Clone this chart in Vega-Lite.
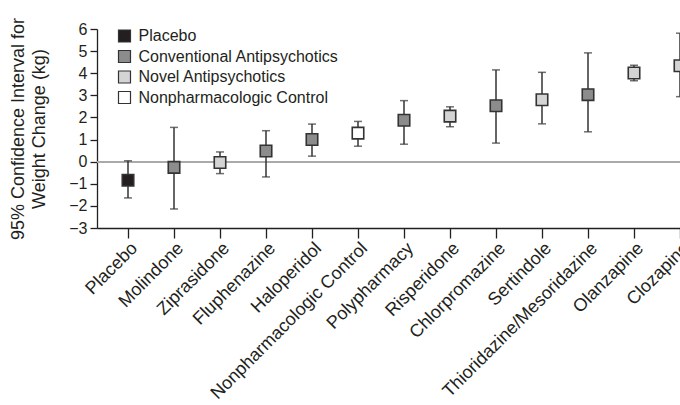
{
  "$schema": "https://vega.github.io/schema/vega-lite/v6.json",
  "autosize": {"type": "none"},
  "width": 583,
  "height": 199,
  "padding": {"left": 97, "top": 29, "right": 0, "bottom": 177},
  "background": "white",
  "config": {
    "font": "Liberation Sans",
    "view": {"stroke": null},
    "axis": {"grid": false, "domainColor": "#231f20", "tickColor": "#231f20", "labelColor": "#231f20", "titleColor": "#231f20", "domainWidth": 1.3, "tickWidth": 1.3, "labelLimit": 0, "labelOverlap": false, "labelFlush": false},
    "axisY": {"tickCount": 10}
  },
  "data": {
    "values": [
      {"drug": "Placebo", "group": "Placebo", "mean": -0.84, "lo": -1.64, "hi": 0.04},
      {"drug": "Molindone", "group": "Conventional Antipsychotics", "mean": -0.26, "lo": -2.14, "hi": 1.55},
      {"drug": "Ziprasidone", "group": "Novel Antipsychotics", "mean": -0.04, "lo": -0.54, "hi": 0.44},
      {"drug": "Fluphenazine", "group": "Conventional Antipsychotics", "mean": 0.48, "lo": -0.69, "hi": 1.40},
      {"drug": "Haloperidol", "group": "Conventional Antipsychotics", "mean": 1.0, "lo": 0.25, "hi": 1.70},
      {"drug": "Nonpharmacologic Control", "group": "Nonpharmacologic Control", "mean": 1.29, "lo": 0.70, "hi": 1.82},
      {"drug": "Polypharmacy", "group": "Conventional Antipsychotics", "mean": 1.87, "lo": 0.79, "hi": 2.76},
      {"drug": "Risperidone", "group": "Novel Antipsychotics", "mean": 2.06, "lo": 1.58, "hi": 2.48},
      {"drug": "Chlorpromazine", "group": "Conventional Antipsychotics", "mean": 2.53, "lo": 0.84, "hi": 4.15},
      {"drug": "Sertindole", "group": "Novel Antipsychotics", "mean": 2.80, "lo": 1.71, "hi": 4.04},
      {"drug": "Thioridazine/Mesoridazine", "group": "Conventional Antipsychotics", "mean": 3.03, "lo": 1.35, "hi": 4.92},
      {"drug": "Olanzapine", "group": "Novel Antipsychotics", "mean": 4.01, "lo": 3.66, "hi": 4.36},
      {"drug": "Clozapine", "group": "Novel Antipsychotics", "mean": 4.34, "lo": 2.94, "hi": 5.81}
    ]
  },
  "encoding": {
    "x": {
      "field": "drug", "type": "nominal", "sort": null,
      "scale": {"type": "point", "padding": 0.337, "align": 1},
      "axis": {"title": null, "labelAngle": -45, "labelFontSize": 18, "tickSize": 10, "labelPadding": 1}
    }
  },
  "layer": [
    {
      "mark": {"type": "rule", "color": "#aaaaaa", "strokeWidth": 1.5},
      "encoding": {"x": null, "y": {"datum": 0, "type": "quantitative",
          "scale": {"domain": [-3, 6], "nice": false, "zero": false},
          "axis": {"title": ["95% Confidence Interval for", "Weight Change (kg)"], "titleFontSize": 18, "titleFontWeight": "normal", "titleLineHeight": 21, "titlePadding": 20, "labelFontSize": 16, "tickSize": 7, "labelPadding": 3, "values": [-3, -2, -1, 0, 1, 2, 3, 4, 5, 6]}}}
    },
    {
      "mark": {"type": "rule", "color": "#333333", "strokeWidth": 1.5},
      "encoding": {
        "y": {"field": "lo", "type": "quantitative",
          "axis": {"title": ["95% Confidence Interval for", "Weight Change (kg)"], "titleFontSize": 18, "titleFontWeight": "normal", "titleLineHeight": 21, "titlePadding": 20, "labelFontSize": 16, "tickSize": 7, "labelPadding": 3, "values": [-3, -2, -1, 0, 1, 2, 3, 4, 5, 6]}},
        "y2": {"field": "hi"}
      }
    },
    {
      "mark": {"type": "tick", "color": "#333333", "size": 8, "thickness": 1.5},
      "encoding": {"y": {"field": "lo", "type": "quantitative",
          "axis": {"title": ["95% Confidence Interval for", "Weight Change (kg)"], "titleFontSize": 18, "titleFontWeight": "normal", "titleLineHeight": 21, "titlePadding": 20, "labelFontSize": 16, "tickSize": 7, "labelPadding": 3, "values": [-3, -2, -1, 0, 1, 2, 3, 4, 5, 6]}}}
    },
    {
      "mark": {"type": "tick", "color": "#333333", "size": 8, "thickness": 1.5},
      "encoding": {"y": {"field": "hi", "type": "quantitative",
          "axis": {"title": ["95% Confidence Interval for", "Weight Change (kg)"], "titleFontSize": 18, "titleFontWeight": "normal", "titleLineHeight": 21, "titlePadding": 20, "labelFontSize": 16, "tickSize": 7, "labelPadding": 3, "values": [-3, -2, -1, 0, 1, 2, 3, 4, 5, 6]}}}
    },
    {
      "mark": {"type": "point", "shape": "square", "filled": true, "size": 132, "stroke": "#333333", "strokeWidth": 1.6, "opacity": 1},
      "encoding": {
        "y": {"field": "mean", "type": "quantitative",
          "axis": {"title": ["95% Confidence Interval for", "Weight Change (kg)"], "titleFontSize": 18, "titleFontWeight": "normal", "titleLineHeight": 21, "titlePadding": 20, "labelFontSize": 16, "tickSize": 7, "labelPadding": 3, "values": [-3, -2, -1, 0, 1, 2, 3, 4, 5, 6]}},
        "fill": {
          "field": "group", "type": "nominal",
          "scale": {"domain": ["Placebo", "Conventional Antipsychotics", "Novel Antipsychotics", "Nonpharmacologic Control"], "range": ["#231f20", "#8c8c8c", "#d4d4d4", "#ffffff"]},
          "legend": {"title": null, "orient": "none", "legendX": 19.5, "legendY": -1, "padding": 0, "symbolType": "square", "symbolSize": 144, "symbolStrokeColor": "#333333", "symbolStrokeWidth": 1.2, "symbolOpacity": 1, "labelFontSize": 16, "labelColor": "#231f20", "labelOffset": 6, "labelLimit": 0, "rowPadding": 2.5}
        }
      }
    }
  ]
}
